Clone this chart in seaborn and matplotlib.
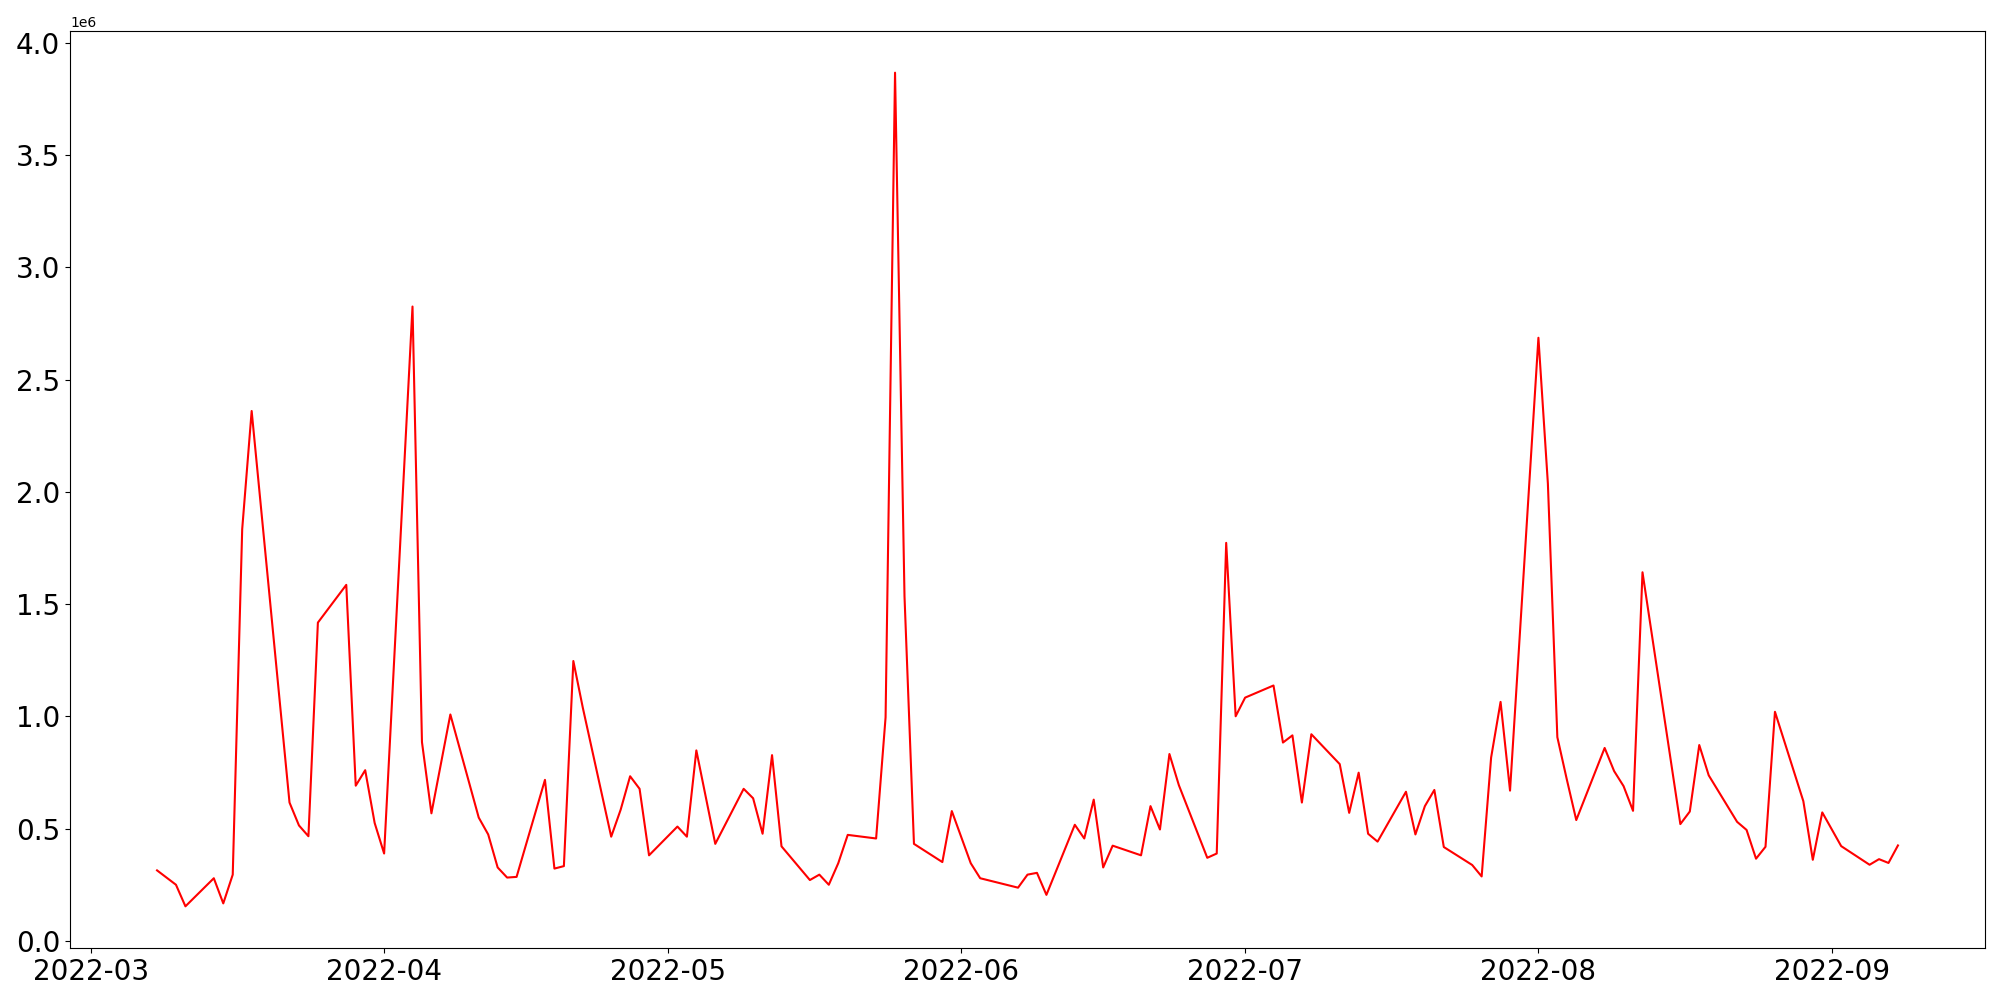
import matplotlib
matplotlib.use("Agg")
import matplotlib.pyplot as plt
import numpy as np
import pandas as pd
import seaborn as sns

# trading days and daily volume (millions)
dates = [
    "2022-03-08", "2022-03-10", "2022-03-11", "2022-03-14", "2022-03-15", "2022-03-16",
    "2022-03-17", "2022-03-18", "2022-03-22", "2022-03-23", "2022-03-24", "2022-03-25",
    "2022-03-28", "2022-03-29", "2022-03-30", "2022-03-31", "2022-04-01",
    "2022-04-04", "2022-04-05", "2022-04-06", "2022-04-08",
    "2022-04-11", "2022-04-12", "2022-04-13", "2022-04-14", "2022-04-15",
    "2022-04-18", "2022-04-19", "2022-04-20", "2022-04-21", "2022-04-22",
    "2022-04-25", "2022-04-26", "2022-04-27", "2022-04-28", "2022-04-29",
    "2022-05-02", "2022-05-03", "2022-05-04", "2022-05-06",
    "2022-05-09", "2022-05-10", "2022-05-11", "2022-05-12", "2022-05-13",
    "2022-05-16", "2022-05-17", "2022-05-18", "2022-05-19", "2022-05-20",
    "2022-05-23", "2022-05-24", "2022-05-25", "2022-05-26", "2022-05-27",
    "2022-05-30", "2022-05-31", "2022-06-02", "2022-06-03",
    "2022-06-07", "2022-06-08", "2022-06-09", "2022-06-10",
    "2022-06-13", "2022-06-14", "2022-06-15", "2022-06-16", "2022-06-17",
    "2022-06-20", "2022-06-21", "2022-06-22", "2022-06-23", "2022-06-24",
    "2022-06-27", "2022-06-28", "2022-06-29", "2022-06-30", "2022-07-01",
    "2022-07-04", "2022-07-05", "2022-07-06", "2022-07-07", "2022-07-08",
    "2022-07-11", "2022-07-12", "2022-07-13", "2022-07-14", "2022-07-15",
    "2022-07-18", "2022-07-19", "2022-07-20", "2022-07-21", "2022-07-22",
    "2022-07-25", "2022-07-26", "2022-07-27", "2022-07-28", "2022-07-29",
    "2022-08-01", "2022-08-02", "2022-08-03", "2022-08-04", "2022-08-05",
    "2022-08-08", "2022-08-09", "2022-08-10", "2022-08-11", "2022-08-12",
    "2022-08-16", "2022-08-17", "2022-08-18", "2022-08-19",
    "2022-08-22", "2022-08-23", "2022-08-24", "2022-08-25", "2022-08-26",
    "2022-08-29", "2022-08-30", "2022-08-31", "2022-09-01", "2022-09-02",
    "2022-09-05", "2022-09-06", "2022-09-07", "2022-09-08",
]
volume_m = [
    0.315, 0.251, 0.155, 0.280, 0.168, 0.296,
    1.834, 2.360, 0.617, 0.515, 0.467, 1.418,
    1.586, 0.692, 0.761, 0.526, 0.390,
    2.825, 0.886, 0.569, 1.009,
    0.550, 0.475, 0.328, 0.283, 0.286,
    0.718, 0.323, 0.334, 1.247, 1.039,
    0.465, 0.585, 0.734, 0.678, 0.382,
    0.510, 0.465, 0.849, 0.433,
    0.678, 0.636, 0.478, 0.828, 0.422,
    0.272, 0.296, 0.251, 0.347, 0.473,
    0.457, 0.996, 3.866, 1.535, 0.433,
    0.352, 0.579, 0.347, 0.280,
    0.238, 0.296, 0.304, 0.206,
    0.518, 0.457, 0.630, 0.328, 0.425,
    0.382, 0.601, 0.497, 0.833, 0.694,
    0.371, 0.390, 1.773, 1.001, 1.084,
    1.138, 0.884, 0.916, 0.617, 0.921,
    0.788, 0.571, 0.750, 0.478, 0.443,
    0.665, 0.475, 0.601, 0.673, 0.419,
    0.339, 0.288, 0.817, 1.065, 0.670,
    2.686, 2.037, 0.908, 0.720, 0.539,
    0.860, 0.757, 0.690, 0.580, 1.642,
    0.521, 0.577, 0.873, 0.738,
    0.531, 0.495, 0.367, 0.420, 1.021,
    0.623, 0.362, 0.573, 0.498, 0.423,
    0.340, 0.365, 0.348, 0.426,
]

df = pd.DataFrame({"date": pd.to_datetime(dates), "volume": np.array(volume_m) * 1e6})

fig, ax = plt.subplots(figsize=(20, 10), dpi=100)
sns.lineplot(data=df, x="date", y="volume", color="red", linewidth=1.5, ax=ax)
ax.set_xlabel("")
ax.set_ylabel("")
ax.tick_params(axis="both", labelsize=20)

plt.subplots_adjust(left=0.035, right=0.9925, bottom=0.052, top=0.969)
plt.savefig("out.png", dpi=100)
plt.close()
